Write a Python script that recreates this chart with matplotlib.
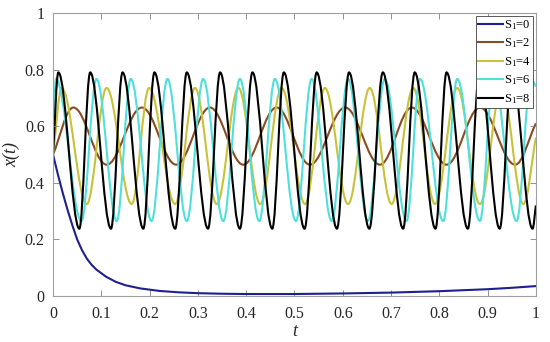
import numpy as np
import matplotlib
matplotlib.use('Agg')
import matplotlib.pyplot as plt
from matplotlib.path import Path
from matplotlib.patches import PathPatch

plt.rcParams['font.family'] = ['Liberation Serif', 'DejaVu Serif']
plt.rcParams['mathtext.fontset'] = 'custom'
plt.rcParams['mathtext.rm'] = 'Liberation Serif'
plt.rcParams['mathtext.it'] = 'Liberation Serif:italic'

# S1 = 0 : decaying curve
t_s0 = [0, 0.005, 0.01, 0.02, 0.03, 0.04, 0.05, 0.06, 0.07, 0.08, 0.09, 0.11, 0.13,
        0.15, 0.18, 0.22, 0.26, 0.3, 0.35, 0.4, 0.5, 0.6, 0.7, 0.8, 0.9, 0.95, 1.0]
x_s0 = [0.5, 0.465, 0.43, 0.365, 0.305, 0.25, 0.2, 0.162, 0.132, 0.11, 0.093, 0.068, 0.05,
        0.038, 0.027, 0.018, 0.013, 0.01, 0.008, 0.007, 0.007, 0.009, 0.012, 0.017, 0.024, 0.029, 0.035]

# oscillating curves: start, successive peaks / troughs, end value
t_s2 = [0, 0.042, 0.111, 0.184, 0.255, 0.325, 0.394, 0.463, 0.532, 0.605, 0.677,
        0.743, 0.815, 0.884, 0.957, 1.0]
x_s2 = [0.5, 0.666, 0.464, 0.666, 0.464, 0.666, 0.464, 0.666, 0.464, 0.666, 0.464,
        0.666, 0.464, 0.666, 0.464, 0.61]

t_s4 = [0, 0.018, 0.070, 0.111, 0.163, 0.199, 0.253, 0.294, 0.339, 0.384, 0.429,
        0.4735, 0.522, 0.563, 0.611, 0.656, 0.701, 0.746, 0.791, 0.837, 0.884,
        0.929, 0.974, 1.0]
x_s4 = [0.5, 0.735, 0.325, 0.735, 0.325, 0.735, 0.325, 0.735, 0.325, 0.735, 0.325,
        0.735, 0.325, 0.735, 0.325, 0.735, 0.325, 0.735, 0.325, 0.735, 0.325,
        0.735, 0.325, 0.56]

t_s6 = [0, 0.006, 0.059, 0.090, 0.132, 0.161, 0.204, 0.237, 0.277, 0.311, 0.3526,
        0.387, 0.427, 0.4596, 0.503, 0.5356, 0.577, 0.611, 0.652, 0.687, 0.732,
        0.760, 0.808, 0.837, 0.884, 0.912, 0.960, 0.990, 1.0]
x_s6 = [0.5, 0.767, 0.265, 0.767, 0.265, 0.767, 0.265, 0.767, 0.265, 0.767, 0.265,
        0.767, 0.265, 0.767, 0.265, 0.767, 0.265, 0.767, 0.265, 0.767, 0.265,
        0.767, 0.265, 0.767, 0.265, 0.767, 0.265, 0.767, 0.74]

t_s8 = [0, 0.011, 0.0545, 0.077, 0.120, 0.144, 0.187, 0.210, 0.253, 0.277, 0.321,
        0.346, 0.387, 0.413, 0.454, 0.478, 0.521, 0.546, 0.588, 0.613, 0.655,
        0.683, 0.725, 0.749, 0.792, 0.815, 0.859, 0.883, 0.925, 0.950, 0.993, 1.0]
x_s8 = [0.5, 0.79, 0.238, 0.79, 0.238, 0.79, 0.238, 0.79, 0.238, 0.79, 0.238,
        0.79, 0.238, 0.79, 0.238, 0.79, 0.238, 0.79, 0.238, 0.79, 0.238,
        0.79, 0.238, 0.79, 0.238, 0.79, 0.238, 0.79, 0.238, 0.79, 0.238, 0.32]

labels = ['S$_1$=0', 'S$_1$=2', 'S$_1$=4', 'S$_1$=6', 'S$_1$=8']
colors = ['#1f1f8f', '#8b4a22', '#c8c23a', '#4fe0dc', '#000000']


def wave_path(ts, xs, k=0.3634):
    # smooth curve through the extremes (flat tangent at each peak / trough)
    verts = [(ts[0], xs[0])]
    codes = [Path.MOVETO]
    n = len(ts)
    for i in range(n - 1):
        t0, v0, t1, v1 = ts[i], xs[i], ts[i + 1], xs[i + 1]
        dt = t1 - t0
        if i == 0:
            c1 = (t0 + k * dt, v0 + k * (v1 - v0))
        else:
            c1 = (t0 + k * dt, v0)
        if i == n - 2:
            c2 = (t1 - k * dt, v1 - k * (v1 - v0))
        else:
            c2 = (t1 - k * dt, v1)
        verts += [c1, c2, (t1, v1)]
        codes += [Path.CURVE4] * 3
    return Path(verts, codes)


fig = plt.figure(figsize=(5.5, 3.42), dpi=100)
ax = fig.add_axes([0.0964, 0.1345, 0.878, 0.8275])

lw = 1.5
ax.plot(t_s0, x_s0, color=colors[0], lw=lw, label=labels[0])
waves = [(t_s2, x_s2), (t_s4, x_s4), (t_s6, x_s6), (t_s8, x_s8)]
for (ts, xs), c, lab in zip(waves, colors[1:], labels[1:]):
    ax.add_patch(PathPatch(wave_path(ts, xs), fill=False, edgecolor=c, lw=lw))
    ax.plot([], [], color=c, lw=lw, label=lab)

ax.set_xlim(0, 1)
ax.set_ylim(0, 1)
ax.set_xticks(np.arange(0, 1.01, 0.1))
ax.set_xticklabels(['0', '0.1', '0.2', '0.3', '0.4', '0.5', '0.6', '0.7', '0.8', '0.9', '1'])
ax.set_yticks([0, 0.2, 0.4, 0.6, 0.8, 1])
ax.set_yticklabels(['0', '0.2', '0.4', '0.6', '0.8', '1'])
ax.tick_params(direction='in', top=True, right=True, length=4, width=0.6,
               color='#808080', labelsize=11.5, labelcolor='#262626')
ax.tick_params(axis='x', pad=7)
ax.tick_params(axis='y', pad=6)
for sp in ax.spines.values():
    sp.set_color('#a0a0a0')
    sp.set_linewidth(0.8)

ax.set_xlabel('t', fontstyle='italic', fontsize=13, labelpad=1, color='#262626')
ax.set_ylabel('x(t)', fontstyle='italic', fontsize=13, labelpad=3, color='#262626')

leg = ax.legend(loc='upper right', fontsize=9, frameon=True, fancybox=False,
                edgecolor='#404040', framealpha=1, borderaxespad=0.25,
                handlelength=2.0, handletextpad=0.1, labelspacing=0.38,
                borderpad=0.15)
leg.get_frame().set_linewidth(0.6)

fig.savefig('out.png', dpi=100)
